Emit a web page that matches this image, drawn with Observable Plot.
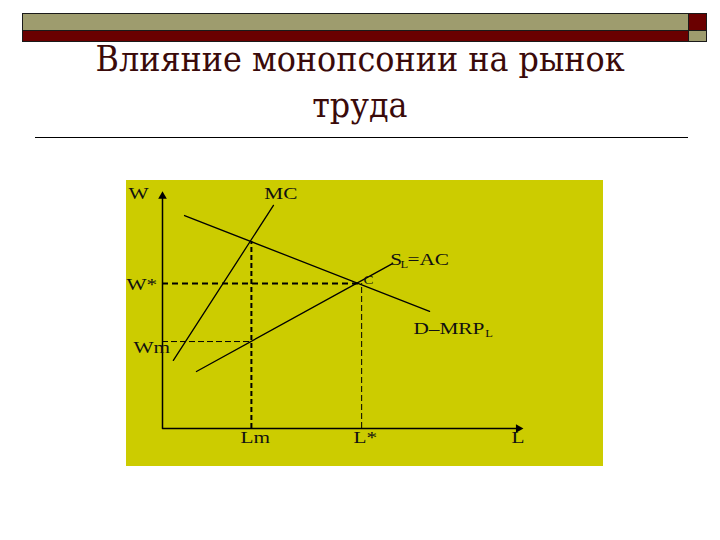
<!DOCTYPE html>
<html>
<head>
<meta charset="utf-8">
<script src="https://cdn.jsdelivr.net/npm/d3@7"></script>
<script src="https://cdn.jsdelivr.net/npm/@observablehq/plot@0.6"></script>
<style>
  body { margin: 0; background: #fff; }
  #page { position: relative; width: 720px; height: 540px; overflow: hidden; background: #fff;
          font-family: "Liberation Serif", "DejaVu Serif", "Times New Roman", serif; }
  .bar { position: absolute; box-sizing: border-box; border: 1px solid #1a1a1a; }
  #title { position: absolute; left: 0; top: 36px; width: 720px; text-align: center;
           color: #3a0a0a; font-size: 36px; line-height: 46px;
           font-family: "DejaVu Serif", "Liberation Serif", serif; }
  #title span { display: inline-block; white-space: nowrap; transform-origin: 50% 50%; }
  #rule { position: absolute; left: 35px; top: 137px; width: 653px; height: 0; border-top: 1.5px solid #000; }
  #chart { position: absolute; left: 126px; top: 180px; }
  #chart svg { display: block; }
</style>
</head>
<body>
<div id="page">
  <div class="bar" style="left:22px;top:13px;width:667px;height:18px;background:#9e9c6e;"></div>
  <div class="bar" style="left:22px;top:30px;width:667px;height:12px;background:#6a0000;"></div>
  <div class="bar" style="left:688px;top:13px;width:19px;height:18px;background:#6a0000;"></div>
  <div class="bar" style="left:688px;top:30px;width:19px;height:12px;background:#9e9c6e;"></div>
  <div id="title"><span id="t1">Влияние монопсонии на рынок</span><br><span id="t2">труда</span></div>
  <div id="rule"></div>
  <div id="chart"></div>
</div>
<script>
// ---- data (labour L on x, wage W on y, arbitrary units) ----
const demandL = [0.63, 7.63];   // D = MRP_L
const demandW = [9.26, 5.09];
const mcL = [3.17, 0.31];       // MC of labour
const mcW = [9.70, 2.96];
const supplyL = [0.97, 6.57];   // S_L = AC
const supplyW = [2.48, 7.17];
const Lm = 2.54, Lstar = 5.69;  // monopsony & competitive employment
const Wm = 3.78, Wstar = 6.30;  // monopsony & competitive wage
const Wmc = 8.13;               // MC = MRP at Lm
const axisEnd = [10.17, 10.1];  // [L max, W max]

const labelText = ["W", "MC", "W*", "Wm", "Lm", "L*", "L", "S", "L", "=AC", "D–MRP", "L", "C"];
const labelL    = [-0.97, 2.91, -1.03, -0.83, 2.23, 5.46, 9.97, 6.51, 6.80, 7.00, 7.17, 9.22, 5.74];
const labelW    = [10.0, 10.0, 6.04, 3.30, -0.61, -0.61, -0.61, 7.09, 6.96, 7.09, 4.13, 3.96, 6.30];
const labelSize = [17, 17, 17, 17, 17, 17, 17, 17, 10, 17, 17, 10, 12];

const pts = (xs, ys) => xs.map((x, i) => ({x, y: ys[i]}));
const labels = labelText.map((t, i) => ({t, x: labelL[i], y: labelW[i], s: labelSize[i]}));

const plot = Plot.plot({
  width: 477,
  height: 286,
  marginLeft: 36,
  marginRight: 91,
  marginTop: 18,
  marginBottom: 38,
  x: {domain: [0, 10], axis: null},
  y: {domain: [0, 10], axis: null},
  style: {background: "#cccc00", overflow: "visible", fontFamily: "'Liberation Serif', 'Times New Roman', serif"},
  marks: [
    // axes
    Plot.line([{x: 0, y: axisEnd[1]}, {x: 0, y: 0}, {x: axisEnd[0], y: 0}], {x: "x", y: "y", stroke: "#000", strokeWidth: 1.5}),
    Plot.dot([{x: 0, y: axisEnd[1]}], {x: "x", y: "y", symbol: "triangle", r: 3.2, fill: "#000", stroke: null}),
    Plot.dot([{x: axisEnd[0], y: 0}], {x: "x", y: "y", symbol: "triangle", r: 3.2, fill: "#000", stroke: null, rotate: 90}),
    // dashed guides
    Plot.ruleY([Wstar], {x1: 0, x2: Lstar, stroke: "#000", strokeWidth: 2, strokeDasharray: "6,4"}),
    Plot.ruleX([Lm], {y1: 0, y2: Wmc, stroke: "#000", strokeWidth: 2, strokeDasharray: "5,3"}),
    Plot.ruleY([Wm], {x1: 0, x2: Lm, stroke: "#000", strokeWidth: 1, strokeDasharray: "6,3"}),
    Plot.ruleX([Lstar], {y1: 0, y2: Wstar, stroke: "#000", strokeWidth: 1, strokeDasharray: "6,3"}),
    // curves
    Plot.line(pts(demandL, demandW), {x: "x", y: "y", stroke: "#000", strokeWidth: 1.3}),
    Plot.line(pts(mcL, mcW), {x: "x", y: "y", stroke: "#000", strokeWidth: 1.3}),
    Plot.line(pts(supplyL, supplyW), {x: "x", y: "y", stroke: "#000", strokeWidth: 1.3}),
    // labels
    Plot.text(labels, {x: "x", y: "y", text: "t", fontSize: "s", textAnchor: "start", lineAnchor: "bottom", fill: "#111"})
  ]
});

document.getElementById("chart").append(plot);

// widen the label glyphs like the original (horizontally stretched type)
plot.querySelectorAll('g[aria-label="text"] text').forEach(t => {
  const w = t.getComputedTextLength();
  t.setAttribute("textLength", (w * 1.25).toFixed(1));
  t.setAttribute("lengthAdjust", "spacingAndGlyphs");
});

// fit the title's first line to the original's width (about 529px)
const t1 = document.getElementById("t1"), t2 = document.getElementById("t2");
const k = 529 / t1.getBoundingClientRect().width;
t1.style.transform = `scaleX(${k})`;
t2.style.transform = `scaleX(${k})`;
</script>
</body>
</html>
